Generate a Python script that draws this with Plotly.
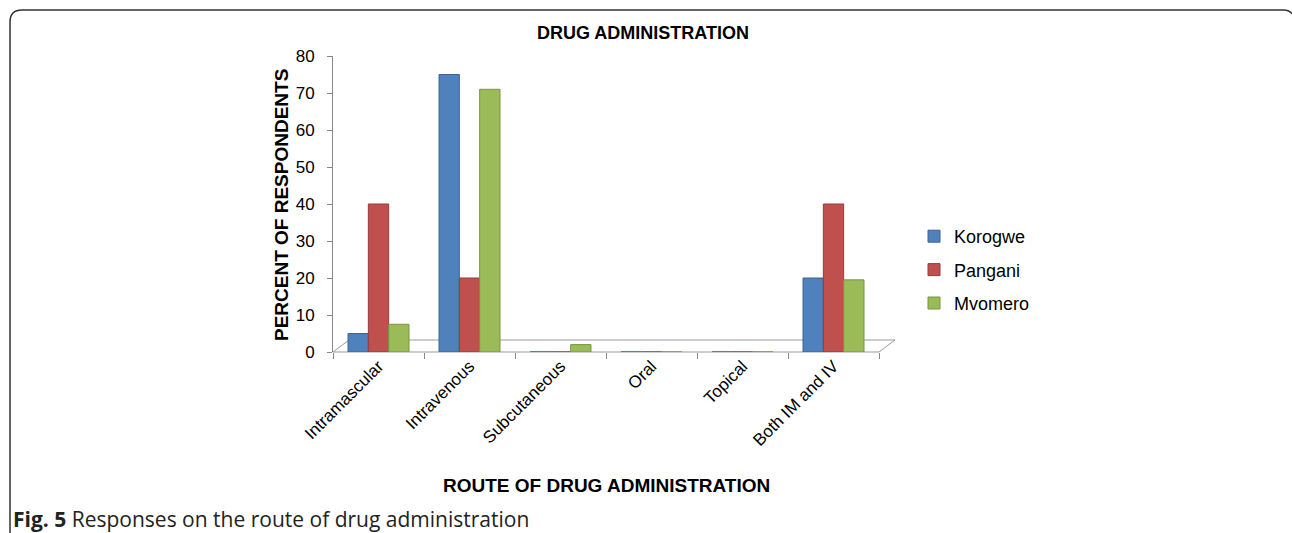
import plotly.graph_objects as go

W, H = 1292, 533

categories = ["Intramascular", "Intravenous", "Subcutaneous", "Oral", "Topical", "Both IM and IV"]
korogwe = [5, 75, 0, 0, 0, 20]
pangani = [40, 20, 0, 0, 0, 40]
mvomero = [7.5, 71, 2, 0, 0, 19.5]
y_ticks = [0, 10, 20, 30, 40, 50, 60, 70, 80]

series = [("Korogwe", korogwe, "#4F81BD", "#3A6595"),
          ("Pangani", pangani, "#C0504D", "#963C3A"),
          ("Mvomero", mvomero, "#9BBB59", "#779443")]


def px(x):
    return x / W


def py(y):
    return 1 - y / H


fig = go.Figure()
for i, (name, vals, col, edge) in enumerate(series):
    fig.add_trace(go.Bar(
        x=categories, y=vals, name=name,
        marker=dict(color=col, line=dict(color=edge, width=1)),
        legendgroup=name,
    ))

x0, x1 = 333, 879
y0, y1 = 352, 56

# 3D-like floor outline
floor = (f"M {px(x0)},{py(y0)} L {px(x1)},{py(y0)} L {px(x1+16)},{py(y0-12)} "
         f"L {px(x0+16)},{py(y0-12)} Z")
# rounded border
border = (f"M {px(10)},{py(545)} L {px(10)},{py(22)} Q {px(10)},{py(10)} {px(22)},{py(10)} "
          f"L {px(1284)},{py(10)} Q {px(1290)},{py(10)} {px(1294)},{py(16)}")

fig.update_layout(
    template="none",
    width=W, height=H,
    margin=dict(l=0, r=0, t=0, b=0, autoexpand=False),
    paper_bgcolor="white", plot_bgcolor="rgba(0,0,0,0)",
    font=dict(family="Liberation Sans, Arial", color="#000000", size=15),
    barmode="group", bargap=0.33, bargroupgap=0,
    showlegend=True,
    legend=dict(x=px(914), y=py(218), xanchor="left", yanchor="top",
                font=dict(size=18, family="Liberation Sans, Arial"),
                traceorder="grouped", tracegroupgap=7,
                itemwidth=30, bgcolor="rgba(0,0,0,0)"),
    xaxis=dict(domain=[px(x0), px(x1)], showline=False, ticks="outside",
               tickson="boundaries", ticklen=6, tickcolor="#888888",
               tickangle=-45, tickfont=dict(size=17), showgrid=False,
               automargin=False),
    yaxis=dict(domain=[py(y0), py(y1)], range=[0, 80], tickvals=y_ticks,
               showline=True, linecolor="#888888", linewidth=1,
               ticks="outside", ticklen=5, tickcolor="#888888",
               tickfont=dict(size=17), showgrid=False, zeroline=False,
               ticklabelstandoff=9, automargin=False),
    shapes=[
        dict(type="path", path=floor, xref="paper", yref="paper",
             line=dict(color="#999999", width=1), layer="below"),
        dict(type="path", path=border, xref="paper", yref="paper",
             line=dict(color="#333333", width=1.5)),
    ],
    annotations=[
        dict(text="<b>DRUG ADMINISTRATION</b>", x=px(643), y=py(33), xref="paper", yref="paper",
             xanchor="center", yanchor="middle", showarrow=False, font=dict(size=18)),
        dict(text="<b>PERCENT OF RESPONDENTS</b>", x=px(282), y=py(205), xref="paper", yref="paper",
             xanchor="center", yanchor="middle", showarrow=False, textangle=-90, font=dict(size=19)),
        dict(text="<b>ROUTE OF DRUG ADMINISTRATION</b>", x=px(606), y=py(485), xref="paper", yref="paper",
             xanchor="center", yanchor="middle", showarrow=False, font=dict(size=19)),
        dict(text="<b>Fig. 5</b> Responses on the route of drug administration", x=px(11), y=py(519),
             xref="paper", yref="paper", xanchor="left", yanchor="middle", showarrow=False,
             font=dict(size=21, family="Open Sans", color="#222222")),
    ],
)

fig.write_html("out.html")
